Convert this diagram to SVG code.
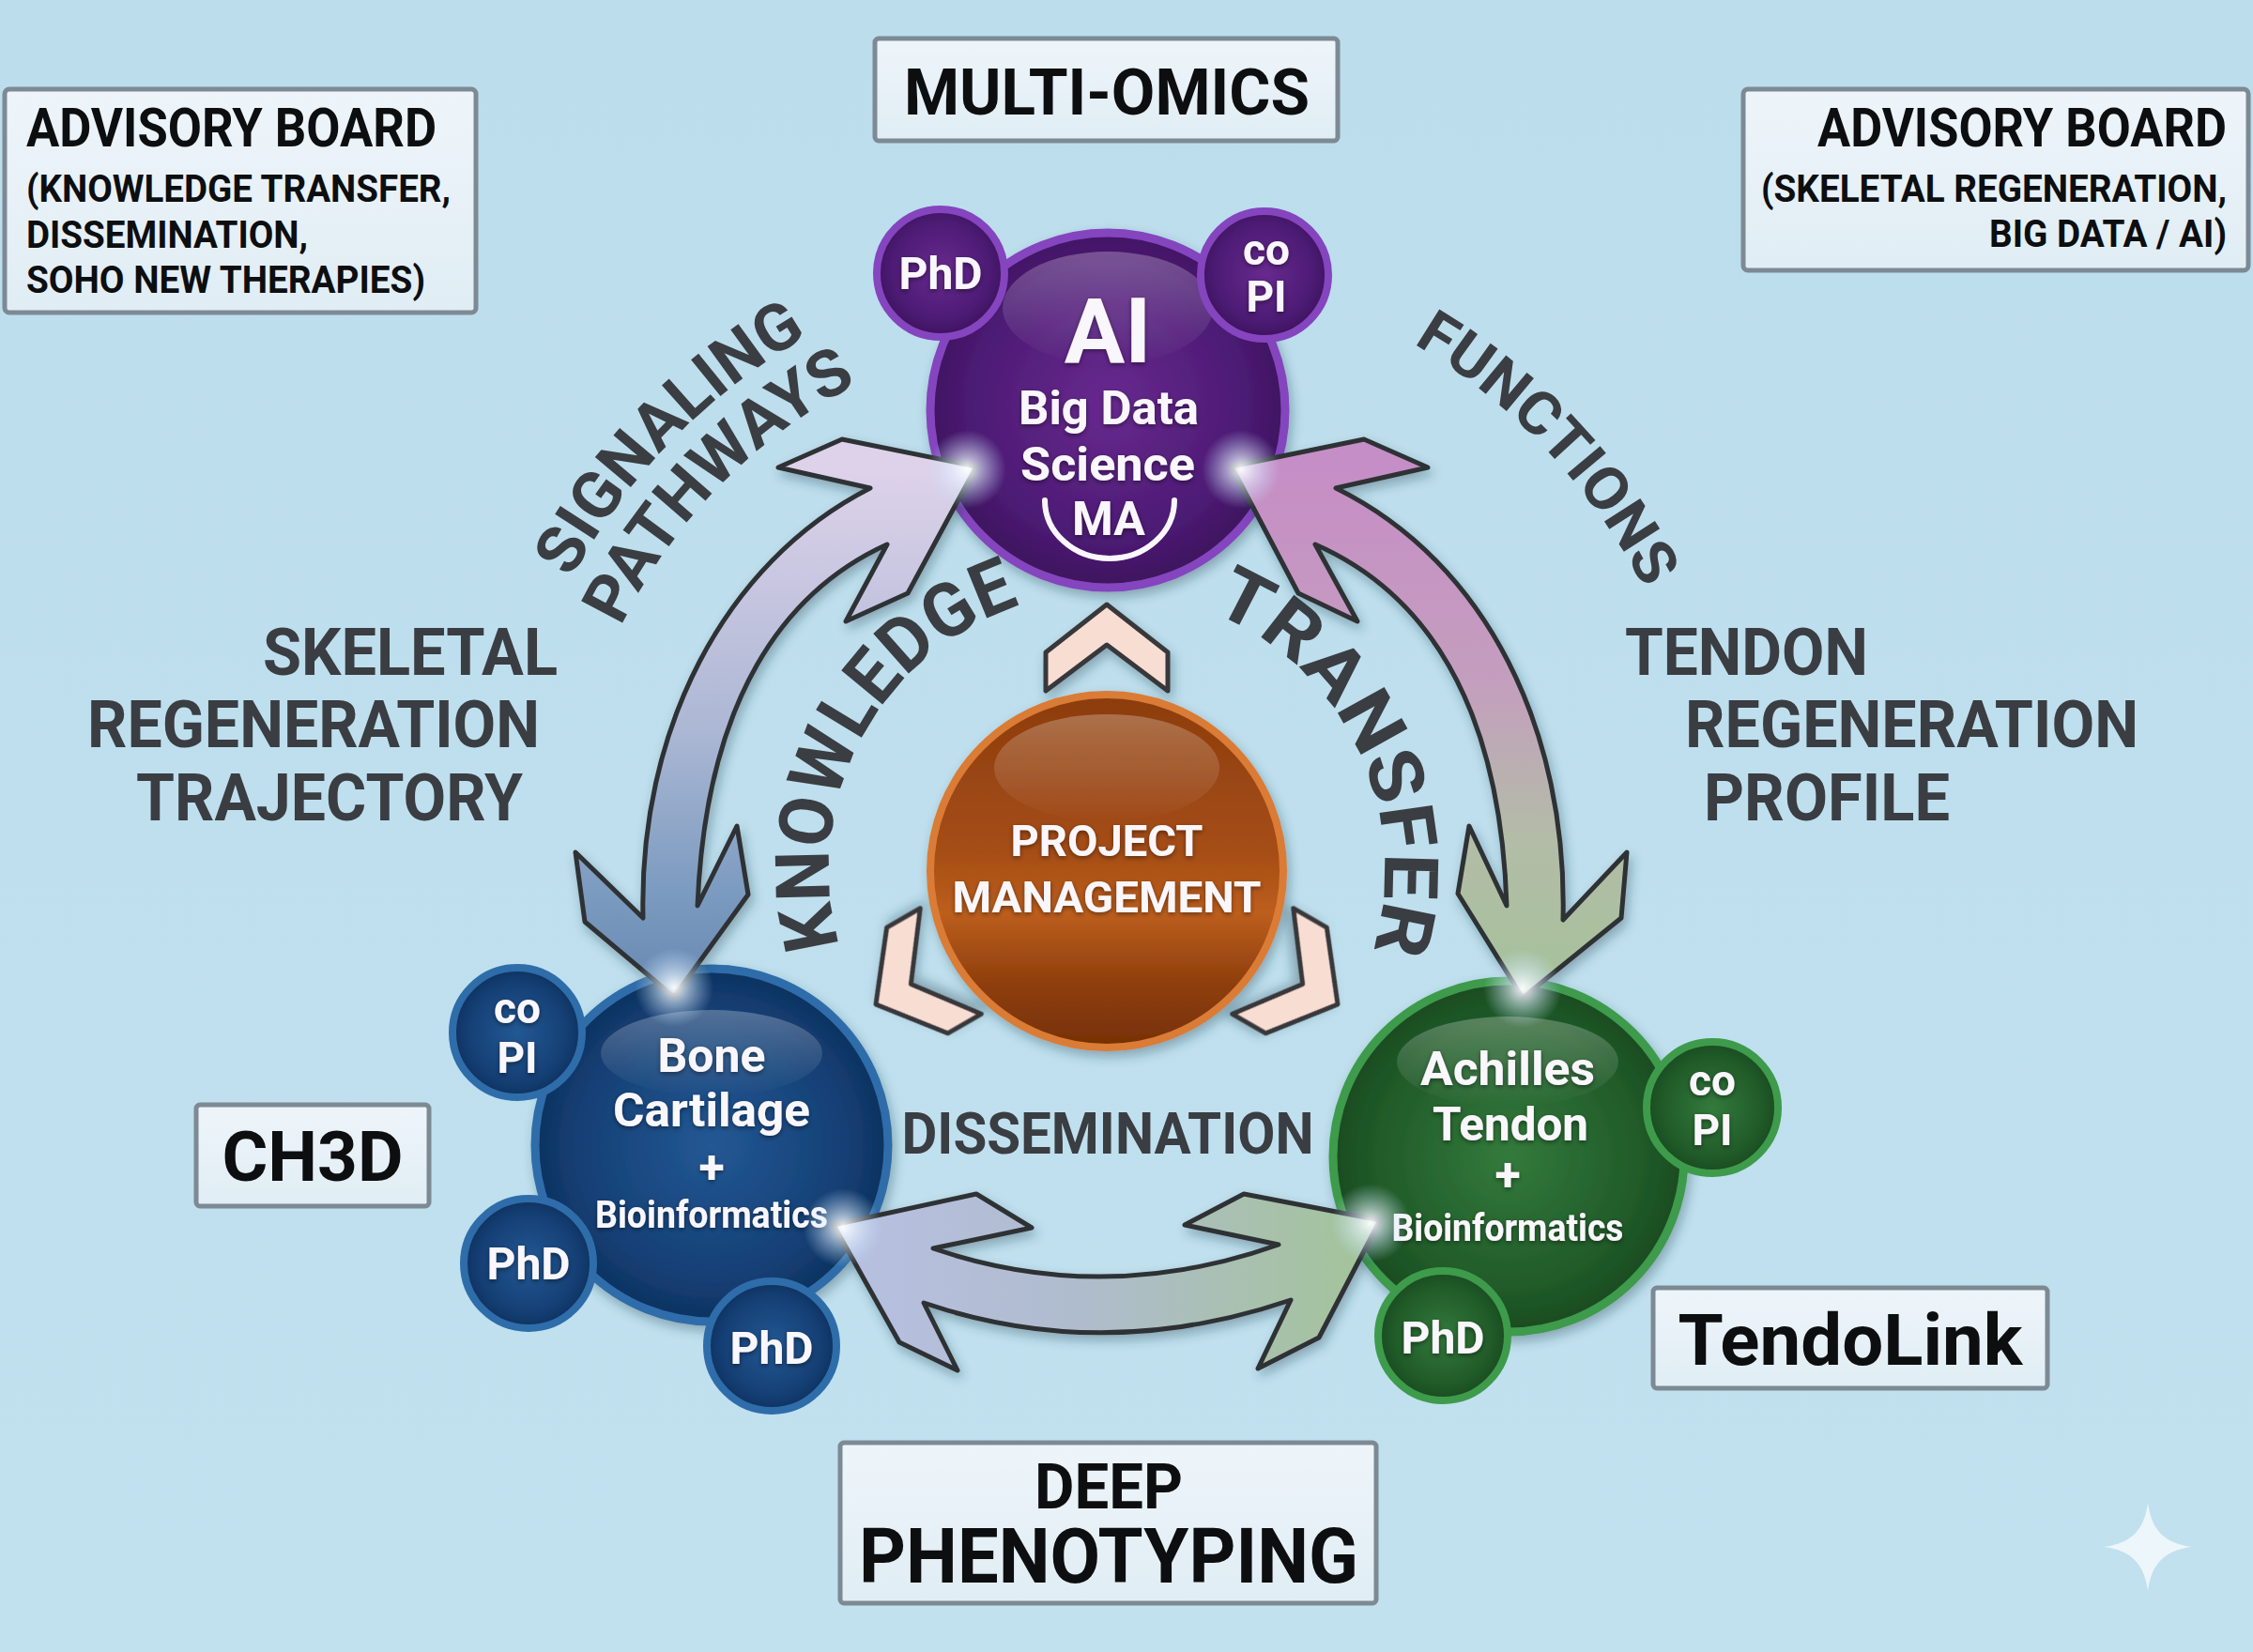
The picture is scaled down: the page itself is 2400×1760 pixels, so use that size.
<svg xmlns="http://www.w3.org/2000/svg" width="2400" height="1760" viewBox="0 0 2400 1760">
<defs>
<style>
text{font-family:Roboto,"Liberation Sans",Arial,sans-serif;font-weight:700}
.bx{fill:url(#gBox);stroke:#7D8A94;stroke-width:5}
.bt{fill:#0D0E10}
.lb{fill:#3A3D42}
.wt{fill:#FAF7FC;text-anchor:middle;filter:url(#tsh)}
.mid{text-anchor:middle}
.ar{stroke:#2F3134;stroke-width:5;stroke-linejoin:round;filter:url(#sh)}
.ch{fill:#F8DDD3;stroke:#37383B;stroke-width:5;stroke-linejoin:round;filter:url(#sh)}
</style>
<linearGradient id="gBg" x1="0" y1="0" x2="0" y2="1"><stop offset="0" stop-color="#BCDDEC"/><stop offset="1" stop-color="#C1E1EF"/></linearGradient>
<linearGradient id="gBox" x1="0" y1="0" x2="0" y2="1"><stop offset="0" stop-color="#EEF5FA"/><stop offset="1" stop-color="#E0EDF4"/></linearGradient>
<radialGradient id="gPur" cx="50%" cy="48%" r="55%"><stop offset="0" stop-color="#68298F"/><stop offset="0.7" stop-color="#4C1B74"/><stop offset="1" stop-color="#3A1058"/></radialGradient>
<radialGradient id="gBlu" cx="50%" cy="50%" r="55%"><stop offset="0" stop-color="#235894"/><stop offset="0.7" stop-color="#143F74"/><stop offset="1" stop-color="#0C2C56"/></radialGradient>
<radialGradient id="gGrn" cx="50%" cy="50%" r="55%"><stop offset="0" stop-color="#337A3C"/><stop offset="0.7" stop-color="#205A28"/><stop offset="1" stop-color="#16451D"/></radialGradient>
<linearGradient id="gOra" x1="0" y1="0" x2="0" y2="1"><stop offset="0" stop-color="#8C3C0F"/><stop offset="0.45" stop-color="#A64E15"/><stop offset="0.62" stop-color="#BC5E1D"/><stop offset="0.82" stop-color="#8E3E0D"/><stop offset="1" stop-color="#763105"/></linearGradient>
<linearGradient id="gHl" x1="0" y1="0" x2="0" y2="1"><stop offset="0" stop-color="#FFFFFF" stop-opacity="0.26"/><stop offset="1" stop-color="#FFFFFF" stop-opacity="0"/></linearGradient>
<radialGradient id="gGlow" cx="50%" cy="50%" r="50%"><stop offset="0" stop-color="#FFFFFF" stop-opacity="0.95"/><stop offset="0.35" stop-color="#E8F4FF" stop-opacity="0.6"/><stop offset="1" stop-color="#BFE0FF" stop-opacity="0"/></radialGradient>
<linearGradient id="gArL" gradientUnits="userSpaceOnUse" x1="0" y1="500" x2="0" y2="1060"><stop offset="0" stop-color="#DED2EA"/><stop offset="0.5" stop-color="#ABB7D4"/><stop offset="0.8" stop-color="#7C9BC0"/><stop offset="1" stop-color="#6788B1"/></linearGradient>
<linearGradient id="gArR" gradientUnits="userSpaceOnUse" x1="0" y1="500" x2="0" y2="1060"><stop offset="0" stop-color="#C68EC6"/><stop offset="0.4" stop-color="#C49EBE"/><stop offset="0.7" stop-color="#B3BCA7"/><stop offset="1" stop-color="#A5C29A"/></linearGradient>
<linearGradient id="gArB" gradientUnits="userSpaceOnUse" x1="890" y1="0" x2="1470" y2="0"><stop offset="0" stop-color="#B8C0E2"/><stop offset="0.45" stop-color="#AFBCCD"/><stop offset="1" stop-color="#A3C497"/></linearGradient>
<filter id="sh" x="-20%" y="-20%" width="140%" height="140%"><feDropShadow dx="3" dy="6" stdDeviation="6" flood-color="#1C3A4C" flood-opacity="0.35"/></filter>
<filter id="tsh" x="-10%" y="-20%" width="120%" height="140%"><feDropShadow dx="0" dy="2" stdDeviation="2.5" flood-color="#000000" flood-opacity="0.45"/></filter>
<path id="pSig" d="M 608.6 616.7 A 646 646 0 0 1 860.9 357.7"/>
<path id="pPat" d="M 661.3 667.5 A 576 576 0 0 1 913.0 409.1"/>
<path id="pFun" d="M 1505.4 366.0 A 643 643 0 0 1 1751.9 628.1"/>
<path id="pKno" d="M 894.5 1007.6 A 296 296 0 0 1 1087.5 644.5"/>
<path id="pTra" d="M 1289.9 651.6 A 296 296 0 0 1 1462.1 1012.5"/>
<polygon id="chev" points="0,-284 65,-233 65,-192 0,-241 -65,-192 -65,-233"/>
</defs>

<rect x="0" y="0" width="2400" height="1760" fill="url(#gBg)"/>

<!-- boxes -->
<g id="box-advisory-left">
<rect class="bx" x="5" y="95" width="502" height="238" rx="5"/>
<text class="bt" x="28" y="156" font-size="58" textLength="437" lengthAdjust="spacingAndGlyphs">ADVISORY BOARD</text>
<text class="bt" x="28" y="215" font-size="40" textLength="452" lengthAdjust="spacingAndGlyphs">(KNOWLEDGE TRANSFER,</text>
<text class="bt" x="28" y="264" font-size="40" textLength="300" lengthAdjust="spacingAndGlyphs">DISSEMINATION,</text>
<text class="bt" x="28" y="312" font-size="40" textLength="425" lengthAdjust="spacingAndGlyphs">SOHO NEW THERAPIES)</text>
</g>
<g id="box-advisory-right">
<rect class="bx" x="1857" y="95" width="538" height="193" rx="5"/>
<text class="bt" x="2372" y="156" font-size="58" text-anchor="end" textLength="436" lengthAdjust="spacingAndGlyphs">ADVISORY BOARD</text>
<text class="bt" x="2372" y="215" font-size="40" text-anchor="end" textLength="496" lengthAdjust="spacingAndGlyphs">(SKELETAL REGENERATION,</text>
<text class="bt" x="2372" y="263" font-size="40" text-anchor="end" textLength="253" lengthAdjust="spacingAndGlyphs">BIG DATA / AI)</text>
</g>
<g id="box-multiomics">
<rect class="bx" x="932" y="41" width="493" height="109" rx="4"/>
<text class="bt mid" x="1179" y="122" font-size="68" textLength="432" lengthAdjust="spacingAndGlyphs">MULTI-OMICS</text>
</g>
<g id="box-ch3d">
<rect class="bx" x="209" y="1177" width="248" height="108" rx="4"/>
<text class="bt mid" x="333" y="1258" font-size="74" textLength="193" lengthAdjust="spacingAndGlyphs">CH3D</text>
</g>
<g id="box-tendolink">
<rect class="bx" x="1761" y="1372" width="420" height="107" rx="4"/>
<text class="bt mid" x="1971" y="1454" font-size="76" textLength="367" lengthAdjust="spacingAndGlyphs">TendoLink</text>
</g>
<g id="box-deep">
<rect class="bx" x="895" y="1537" width="571" height="171" rx="4"/>
<text class="bt mid" x="1181" y="1607" font-size="66" textLength="158" lengthAdjust="spacingAndGlyphs">DEEP</text>
<text class="bt mid" x="1181" y="1686" font-size="82" textLength="532" lengthAdjust="spacingAndGlyphs">PHENOTYPING</text>
</g>

<!-- side labels -->
<g id="label-skeletal" class="lb">
<text x="280" y="719" font-size="70" textLength="314" lengthAdjust="spacingAndGlyphs">SKELETAL</text>
<text x="93" y="796" font-size="70" textLength="482" lengthAdjust="spacingAndGlyphs">REGENERATION</text>
<text x="145" y="874" font-size="70" textLength="412" lengthAdjust="spacingAndGlyphs">TRAJECTORY</text>
</g>
<g id="label-tendon" class="lb">
<text x="1731" y="719" font-size="70" textLength="259" lengthAdjust="spacingAndGlyphs">TENDON</text>
<text x="1795" y="796" font-size="70" textLength="483" lengthAdjust="spacingAndGlyphs">REGENERATION</text>
<text x="1815" y="874" font-size="70" textLength="262" lengthAdjust="spacingAndGlyphs">PROFILE</text>
</g>
<g id="label-arcs" class="lb">
<text font-size="70"><textPath href="#pSig" textLength="366" lengthAdjust="spacingAndGlyphs">SIGNALING</textPath></text>
<text font-size="70"><textPath href="#pPat" textLength="367" lengthAdjust="spacingAndGlyphs">PATHWAYS</textPath></text>
<text font-size="64"><textPath href="#pFun" textLength="364" lengthAdjust="spacingAndGlyphs">FUNCTIONS</textPath></text>
<text font-size="80"><textPath href="#pKno" textLength="454" lengthAdjust="spacingAndGlyphs">KNOWLEDGE</textPath></text>
<text font-size="80"><textPath href="#pTra" textLength="439" lengthAdjust="spacingAndGlyphs">TRANSFER</textPath></text>
<text class="mid" x="1180" y="1229" font-size="62" textLength="439" lengthAdjust="spacingAndGlyphs">DISSEMINATION</text>
</g>

<!-- chevrons -->
<g id="chevrons">
<use href="#chev" class="ch" transform="translate(1179 928)"/>
<use href="#chev" class="ch" transform="translate(1179 928) rotate(120)"/>
<use href="#chev" class="ch" transform="translate(1179 928) rotate(-120)"/>
</g>

<!-- project management -->
<g id="node-pm">
<circle cx="1179" cy="928" r="188" fill="url(#gOra)" stroke="#DA7B36" stroke-width="8" filter="url(#sh)"/>
<ellipse cx="1179" cy="818" rx="120" ry="57" fill="url(#gHl)"/>
<text class="wt" x="1179" y="912" font-size="47" textLength="205" lengthAdjust="spacingAndGlyphs">PROJECT</text>
<text class="wt" x="1179" y="972" font-size="47" textLength="329" lengthAdjust="spacingAndGlyphs">MANAGEMENT</text>
</g>

<!-- AI node -->
<g id="node-ai">
<circle cx="1180" cy="437" r="189" fill="url(#gPur)" stroke="#8445BE" stroke-width="9" filter="url(#sh)"/>
<ellipse cx="1180" cy="328" rx="112" ry="60" fill="url(#gHl)"/>
<text class="wt" x="1180" y="386" font-size="96">AI</text>
<text class="wt" x="1181" y="452" font-size="50" textLength="192" lengthAdjust="spacingAndGlyphs">Big Data</text>
<text class="wt" x="1180" y="512" font-size="50" textLength="186" lengthAdjust="spacingAndGlyphs">Science</text>
<text class="wt" x="1181" y="570" font-size="50">MA</text>
<path d="M 1113 533 A 69 62 0 0 0 1251 533" fill="none" stroke="#FAF7FC" stroke-width="6" stroke-linecap="round"/>
</g>
<g id="node-ai-phd">
<circle cx="1002" cy="291" r="68" fill="url(#gPur)" stroke="#8445BE" stroke-width="8"/>
<text class="wt" x="1002" y="308" font-size="48">PhD</text>
</g>
<g id="node-ai-copi">
<circle cx="1347" cy="293" r="68" fill="url(#gPur)" stroke="#8445BE" stroke-width="8"/>
<text class="wt" x="1349" y="282" font-size="46">co</text>
<text class="wt" x="1349" y="332" font-size="46">PI</text>
</g>

<!-- Bone node -->
<g id="node-bone">
<circle cx="758" cy="1220" r="188" fill="url(#gBlu)" stroke="#2E6DA9" stroke-width="9" filter="url(#sh)"/>
<ellipse cx="758" cy="1122" rx="118" ry="46" fill="url(#gHl)"/>
<text class="wt" x="758" y="1142" font-size="50" textLength="115" lengthAdjust="spacingAndGlyphs">Bone</text>
<text class="wt" x="758" y="1200" font-size="50" textLength="210" lengthAdjust="spacingAndGlyphs">Cartilage</text>
<text class="wt" x="758" y="1261" font-size="50">+</text>
<text class="wt" x="758" y="1308" font-size="40" textLength="248" lengthAdjust="spacingAndGlyphs">Bioinformatics</text>
</g>
<g id="node-bone-copi">
<circle cx="551" cy="1100" r="69" fill="url(#gBlu)" stroke="#2E6DA9" stroke-width="8"/>
<text class="wt" x="551" y="1090" font-size="46">co</text>
<text class="wt" x="551" y="1143" font-size="46">PI</text>
</g>
<g id="node-bone-phd1">
<circle cx="563" cy="1346" r="69" fill="url(#gBlu)" stroke="#2E6DA9" stroke-width="8"/>
<text class="wt" x="563" y="1363" font-size="48">PhD</text>
</g>
<g id="node-bone-phd2">
<circle cx="822" cy="1434" r="69" fill="url(#gBlu)" stroke="#2E6DA9" stroke-width="8"/>
<text class="wt" x="822" y="1453" font-size="48">PhD</text>
</g>

<!-- Achilles node -->
<g id="node-achilles">
<circle cx="1607" cy="1232" r="187" fill="url(#gGrn)" stroke="#3E9B4B" stroke-width="9" filter="url(#sh)"/>
<ellipse cx="1606" cy="1131" rx="118" ry="48" fill="url(#gHl)"/>
<text class="wt" x="1606" y="1156" font-size="50" textLength="186" lengthAdjust="spacingAndGlyphs">Achilles</text>
<text class="wt" x="1609" y="1215" font-size="50" textLength="166" lengthAdjust="spacingAndGlyphs">Tendon</text>
<text class="wt" x="1606" y="1269" font-size="50">+</text>
<text class="wt" x="1606" y="1322" font-size="40" textLength="247" lengthAdjust="spacingAndGlyphs">Bioinformatics</text>
</g>
<g id="node-achilles-copi">
<circle cx="1824" cy="1180" r="70" fill="url(#gGrn)" stroke="#3E9B4B" stroke-width="8"/>
<text class="wt" x="1824" y="1167" font-size="46">co</text>
<text class="wt" x="1824" y="1220" font-size="46">PI</text>
</g>
<g id="node-achilles-phd">
<circle cx="1537" cy="1423" r="69" fill="url(#gGrn)" stroke="#3E9B4B" stroke-width="8"/>
<text class="wt" x="1537" y="1442" font-size="48">PhD</text>
</g>

<!-- connectors -->
<g id="connectors">
<path class="ar" fill="url(#gArL)" d="M 718 1062 L 623 982 L 613 908 L 685 978 C 680 780 770 600 927 520 L 829 498 L 897 468 L 1040 497 L 967 632 L 901 662 L 945 580 C 835 630 752 745 743 965 L 785 880 L 797 953 Z"/>
<path class="ar" fill="url(#gArR)" d="M 1622 1063 L 1727 978 L 1733 908 L 1665 980 C 1670 780 1585 600 1423 520 L 1521 498 L 1453 468 L 1312 497 L 1383 632 L 1446 662 L 1401 580 C 1515 630 1598 745 1605 965 L 1565 880 L 1553 952 Z"/>
<path class="ar" fill="url(#gArB)" d="M 888 1305 L 1040 1272 L 1099 1308 L 994 1330 Q 1176 1392 1362 1326 L 1262 1305 L 1325 1272 L 1470 1300 L 1405 1425 L 1340 1458 L 1375 1385 Q 1175 1453 984 1388 L 1020 1460 L 958 1430 Z"/>
<circle cx="1030" cy="500" r="42" fill="url(#gGlow)"/>
<circle cx="1322" cy="500" r="42" fill="url(#gGlow)"/>
<circle cx="718" cy="1052" r="42" fill="url(#gGlow)"/>
<circle cx="1622" cy="1053" r="42" fill="url(#gGlow)"/>
<circle cx="898" cy="1308" r="42" fill="url(#gGlow)"/>
<circle cx="1460" cy="1303" r="42" fill="url(#gGlow)"/>
</g>

<path d="M 2288 1601 C 2292 1630 2305 1644 2335 1648 C 2305 1652 2292 1666 2288 1695 C 2284 1666 2271 1652 2241 1648 C 2271 1644 2284 1630 2288 1601 Z" fill="#FFFFFF" fill-opacity="0.7"/>
</svg>
